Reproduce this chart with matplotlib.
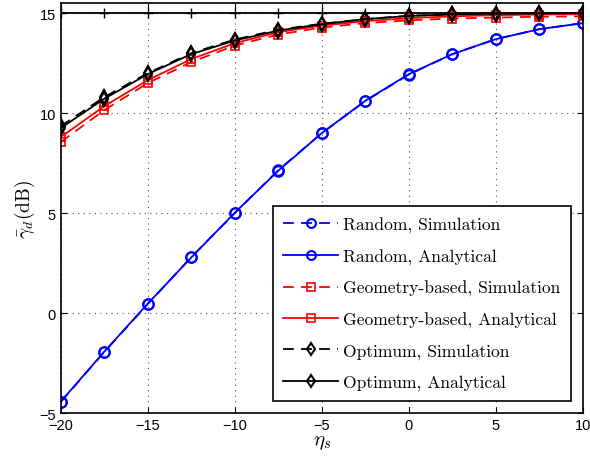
import matplotlib
matplotlib.use('Agg')
import matplotlib.pyplot as plt

plt.rcParams['mathtext.fontset'] = 'cm'
plt.rcParams['font.family'] = ['Liberation Sans', 'DejaVu Sans']

eta = [-20, -17.5, -15, -12.5, -10, -7.5, -5, -2.5, 0, 2.5, 5, 7.5, 10]

random_sim = [-4.45, -1.95, 0.45, 2.8, 5.0, 7.15, 9.0, 10.6, 11.93, 12.95, 13.7, 14.2, 14.5]
random_ana = [-4.43, -1.93, 0.47, 2.78, 5.02, 7.12, 9.0, 10.62, 11.95, 12.95, 13.7, 14.2, 14.5]
geo_sim = [8.55, 10.15, 11.5, 12.55, 13.38, 13.93, 14.28, 14.5, 14.64, 14.73, 14.78, 14.82, 14.84]
geo_ana = [8.8, 10.35, 11.65, 12.7, 13.5, 14.05, 14.38, 14.6, 14.75, 14.84, 14.9, 14.93, 14.95]
opt_sim = [9.35, 10.8, 12.0, 13.0, 13.68, 14.17, 14.47, 14.7, 14.87, 14.94, 14.97, 14.99, 15.0]
opt_ana = [9.25, 10.72, 11.95, 12.95, 13.63, 14.13, 14.45, 14.7, 14.86, 14.94, 14.97, 14.99, 15.0]
bound = [15] * len(eta)

fig = plt.figure(figsize=(5.9, 4.6), dpi=100)
ax = fig.add_axes([0.103, 0.1, 0.885, 0.891])

lw = 1.3
ax.plot(eta, bound, color='k', lw=lw, marker='+', ms=7, mew=1.0)
ax.plot(eta, random_sim, '--', color='#0000ff', lw=lw, marker='o', ms=7.5, mfc='none', mew=1.5,
        dashes=(6, 4), label='Random, Simulation')
ax.plot(eta, random_ana, '-', color='#0000ff', lw=lw, marker='o', ms=7.5, mfc='none', mew=1.5,
        label='Random, Analytical')
ax.plot(eta, geo_sim, '--', color='#ff0000', lw=lw, marker='s', ms=6, mfc='none', mew=1.2,
        dashes=(6, 4), label='Geometry-based, Simulation')
ax.plot(eta, geo_ana, '-', color='#ff0000', lw=lw, marker='s', ms=6, mfc='none', mew=1.2,
        label='Geometry-based, Analytical')
ax.plot(eta, opt_sim, '--', color='k', lw=lw, marker='d', ms=7.5, mfc='none', mew=1.5,
        dashes=(6, 4), label='Optimum, Simulation')
ax.plot(eta, opt_ana, '-', color='k', lw=lw, marker='d', ms=7.5, mfc='none', mew=1.5,
        label='Optimum, Analytical')

ax.set_xlim(-20, 10)
ax.set_ylim(-5, 15.5)
ax.set_xticks([-20, -15, -10, -5, 0, 5, 10])
ax.set_yticks([-5, 0, 5, 10, 15])
ax.grid(True, linestyle=(0, (1, 4)), color='#555555', lw=0.8)
ax.tick_params(direction='in', top=True, right=True, labelsize=10.5, length=4)
for s in ax.spines.values():
    s.set_linewidth(1.2)

ax.set_xlabel(r'$\eta_s$', fontsize=15, labelpad=0)
ax.set_ylabel(r'$\bar{\gamma}_d$(dB)', fontsize=14, labelpad=2)
ax.yaxis.label.set_family('cmr10')

leg = ax.legend(loc='lower right', prop={'family': 'cmr10', 'size': 12.6}, handlelength=3.1,
                labelspacing=0.88, borderpad=0.6, fancybox=False, framealpha=1,
                edgecolor='k', borderaxespad=0.7, handletextpad=0.3, markerscale=0.85)
leg.get_frame().set_linewidth(1.2)

fig.savefig('out.png', dpi=100)
